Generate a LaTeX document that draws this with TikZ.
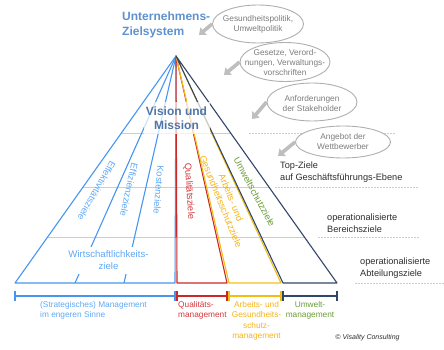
\documentclass[tikz,border=0pt]{standalone}
\usepackage{fontspec}
\setmainfont{Liberation Sans}
\usetikzlibrary{shapes.geometric,arrows.meta}
\definecolor{titleblue}{RGB}{95,145,205}
\definecolor{visblue}{RGB}{80,118,168}
\definecolor{lineblue}{RGB}{70,150,240}
\definecolor{txtblue}{RGB}{95,168,245}
\definecolor{lred}{RGB}{205,40,40}
\definecolor{tred}{RGB}{210,55,60}
\definecolor{lyel}{RGB}{242,190,20}
\definecolor{tyel}{RGB}{245,180,25}
\definecolor{lnavy}{RGB}{50,70,105}
\definecolor{tgreen}{RGB}{105,155,55}
\definecolor{ggray}{RGB}{205,205,205}
\definecolor{egray}{RGB}{175,175,175}
\definecolor{etext}{RGB}{125,125,125}
\definecolor{agray}{RGB}{190,190,190}
\definecolor{dtext}{RGB}{45,45,45}
\begin{document}
\begin{tikzpicture}[x=1pt,y=-1pt,
  pline/.style={line width=1.1pt, line join=round},
  hline/.style={draw=ggray, line width=1pt},
  dotline/.style={draw=ggray, line width=0.8pt, dash pattern=on 1.5pt off 1.5pt},
  ell/.style={ellipse, draw=egray, line width=0.9pt, fill=white, inner sep=0},
  etxt/.style={text=etext, font=\fontsize{8.3}{10}\selectfont, align=center, inner sep=0},
  rlab/.style={inner sep=0, font=\fontsize{9.3}{11}\selectfont, align=center},
  side/.style={inner sep=0, text=dtext, font=\fontsize{9.2}{12}\selectfont, align=left, anchor=west},
  mlab/.style={inner sep=0, font=\fontsize{8.3}{10.5}\selectfont, anchor=north},
  garrow/.style={draw=agray, line width=3.6pt, -{Triangle[length=6pt,width=9.5pt]}},
  brk/.style={line width=1.1pt},
  ttl/.style={inner sep=0, font=\fontsize{12}{15}\selectfont\bfseries}
]
\path[use as bounding box] (0,0) rectangle (444,350);

% pyramid points
\coordinate (apex) at (176,56);
\coordinate (L) at (15,283);
\coordinate (b1) at (75,283);
\coordinate (b2) at (124,283);
\coordinate (b3) at (175,283);
\coordinate (r0) at (177,283);
\coordinate (r1) at (227,283);
\coordinate (y0) at (229,283);
\coordinate (y1) at (281,283);
\coordinate (n0) at (283,283);
\coordinate (R) at (337,283);

% horizontal level lines
\draw[hline] (121.4,133) -- (230.6,133);
\draw[hline] (83.1,187) -- (268.9,187);
\draw[hline] (47.6,237) -- (304.4,237);
\draw[dotline] (249,133) -- (395,133);
\draw[dotline] (275,187) -- (419,187);
\draw[dotline] (318,237) -- (420,237);
\draw[dotline] (355,283) -- (444,283);

% pyramid sections
\draw[pline, lineblue] (apex) -- (L) -- (b3) -- cycle;
\draw[pline, lineblue] (apex) -- (b1);
\draw[pline, lineblue] (apex) -- (b2);
\draw[pline, lred] (apex) -- (r0) -- (r1) -- cycle;
\draw[pline, lyel] (apex) -- (y0) -- (y1) -- cycle;
\draw[pline, lnavy] (apex) -- (n0) -- (R) -- cycle;

% boxes in pyramid
\node[fill=white, fill opacity=0.72, text opacity=1, minimum width=66pt, minimum height=32pt, inner sep=0,
      text=visblue, font=\fontsize{12}{14}\selectfont\bfseries, align=center] (vis) at (176.5,118) {Vision und\\Mission};
\node[fill=white, minimum width=89pt, minimum height=27pt, inner sep=0, text=txtblue,
      font=\fontsize{9.6}{12}\selectfont, align=center] (wirt) at (108.5,260) {Wirtschaftlichkeits-\\ziele};

% rotated labels
\node[rlab, text=txtblue, rotate=-120] (eff1) at (96.7,190.7) {Effektivitätsziele};
\node[rlab, text=txtblue, rotate=-102.5] (eff2) at (129,190) {Effizienzziele};
\node[rlab, text=txtblue, rotate=-94.5] (kost) at (158.7,190) {Kostenziele};
\node[rlab, text=tred, rotate=-86.3] (qual) at (189.2,191.3) {Qualitätsziele};
\node[rlab, text=tyel, rotate=-68] (arb) at (226,199.5) {Arbeits- und\\Gesundheitsschutzziele};
\node[rlab, text=tgreen, rotate=-61.7] (umw) at (254.5,192) {Umweltschutzziele};

% title
\node[ttl, text=titleblue, anchor=west, align=left] (title) at (122,24.5) {Unternehmens-\\Zielsystem};

% influence arrows and ellipses
\coordinate (a1) at (199,35);
\coordinate (a2) at (224,75);
\coordinate (a3) at (252,119);
\coordinate (a4) at (278,156);
\node[ell, minimum width=91pt, minimum height=38pt] (e1) at (258,24) {};
\node[ell, minimum width=90pt, minimum height=39pt] (e2) at (285,62) {};
\node[ell, minimum width=90pt, minimum height=38pt] (e3) at (312,102) {};
\node[ell, minimum width=95pt, minimum height=32pt] (e4) at (343,142) {};
\draw[garrow] (e1.west) -- (a1);
\draw[garrow] (e2.west) -- (a2);
\draw[garrow] (e3.west) -- (a3);
\draw[garrow] (e4.west) -- (a4);
\node[etxt] (t1) at (258,24) {Gesundheitspolitik,\\Umweltpolitik};
\node[etxt] (t2) at (285,63) {Gesetze, Verord-\\nungen, Verwaltungs-\\vorschriften};
\node[etxt] (t3) at (312,103.5) {Anforderungen\\der Stakeholder};
\node[etxt] (t4) at (343,142) {Angebot der\\Wettbewerber};

% side labels
\node[side] (s1) at (280,172) {Top-Ziele\\auf Geschäftsführungs-Ebene};
\node[side] (s2) at (327,223.5) {operationalisierte\\Bereichsziele};
\node[side] (s3) at (360,268.5) {operationalisierte\\Abteilungsziele};

% bottom brackets
\draw[brk, lineblue] (15,291) -- (15,301) (15,296) -- (175,296) (175,291) -- (175,301);
\draw[brk, lred] (177,291) -- (177,301) (177,296) -- (227,296) (227,291) -- (227,301);
\draw[brk, lyel] (229,291) -- (229,301) (229,296) -- (281,296) (281,291) -- (281,301);
\draw[brk, lnavy] (283,291) -- (283,301) (283,296) -- (337,296) (337,291) -- (337,301);

% bottom labels
\node[mlab, anchor=north west, text=txtblue, align=left] (m1) at (40,301) {(Strategisches) Management\\im engeren Sinne};
\node[mlab, anchor=north west, text=tred, align=left] (m2) at (178,301) {Qualitäts-\\management};
\node[mlab, text=tyel, align=center] (m3) at (256.5,301) {Arbeits- und\\Gesundheits-\\schutz-\\management};
\node[mlab, text=tgreen, align=center] (m4) at (310,301) {Umwelt-\\management};
\node[inner sep=0, text=dtext, font=\fontsize{7}{8}\selectfont\itshape] (copy) at (367.5,338) {© Visality Consulting};
\end{tikzpicture}
\end{document}
